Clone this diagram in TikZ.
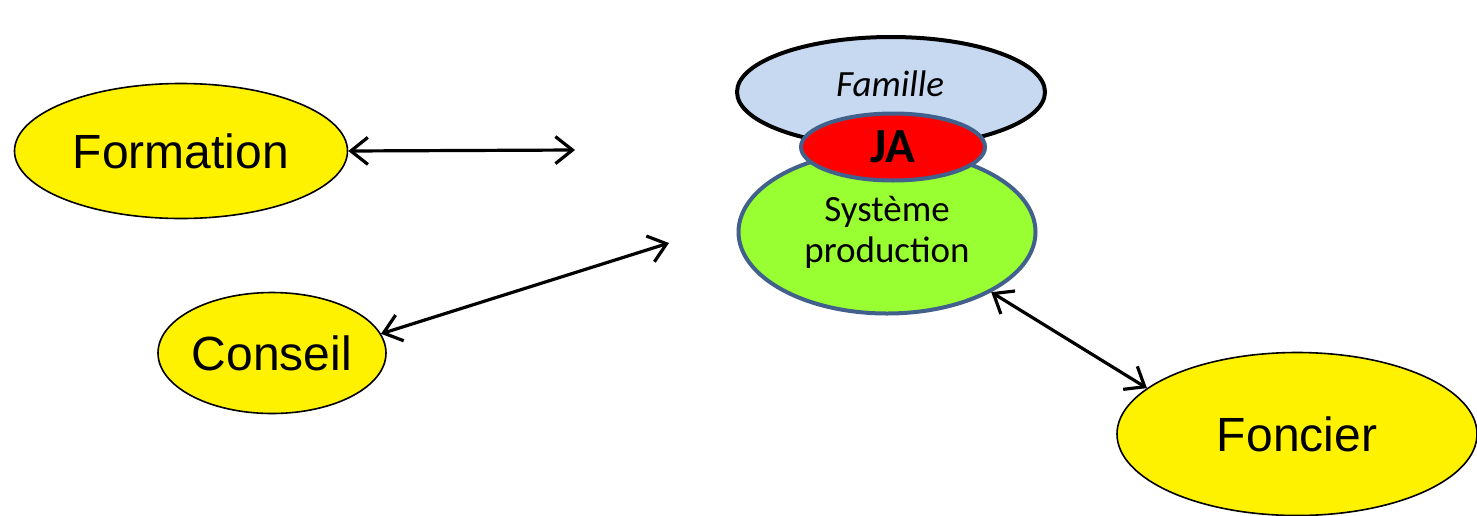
\documentclass[tikz,border=0pt]{standalone}
\usepackage{fontspec}
\setmainfont{Liberation Sans}
\newfontfamily\calibri{Carlito}
\usetikzlibrary{shapes.geometric,arrows.meta}
\definecolor{famfill}{HTML}{C6D9F1}
\definecolor{sysgreen}{HTML}{99FF33}
\definecolor{edgeblue}{HTML}{41618C}
\tikzset{
  yellowell/.style={ellipse, draw=black, line width=1.6pt, fill=yellow, inner sep=0pt,
    font=\fontsize{48}{54}\selectfont},
  famell/.style={ellipse, draw=black, line width=4pt, fill=famfill, inner sep=0pt},
  sysell/.style={ellipse, draw=edgeblue, line width=4pt, fill=sysgreen, inner sep=0pt},
  jaell/.style={ellipse, draw=edgeblue, line width=4pt, fill=red, inner sep=0pt},
  link/.style={line width=3.2pt, {Straight Barb[length=17pt,width=27pt,line width=3.2pt]}-{Straight Barb[length=17pt,width=27pt,line width=3.2pt]}},
}
\begin{document}
\begin{tikzpicture}[x=1pt,y=-1pt]
\useasboundingbox (0,0) rectangle (1477,515);
% central cluster
\node[famell, minimum width=308pt, minimum height=110pt] (famille) at (891,92) {};
\node[font=\calibri\itshape\fontsize{37}{42}\selectfont] (famtxt) at (890,84) {Famille};
\node[sysell, minimum width=297pt, minimum height=163pt, align=center,
  font=\calibri\fontsize{37}{41}\selectfont] (syst) at (887,232) {Système\\production};
\node[jaell, minimum width=184pt, minimum height=67pt,
  font=\calibri\bfseries\fontsize{49}{54}\selectfont] (ja) at (893,147) {JA};
% satellites
\node[yellowell, minimum width=333pt, minimum height=135pt] (formation) at (181,151) {Formation};
\node[yellowell, minimum width=228pt, minimum height=121pt] (conseil) at (272,353) {Conseil};
\node[yellowell, minimum width=360pt, minimum height=163pt] (foncier) at (1297,434) {Foncier};
% free ends
\coordinate (fA) at (575,150);
\coordinate (cA) at (669,243);
% connectors
\draw[link] (formation.east) -- (fA);
\draw[link] (conseil.10) -- (cA);
\draw[link] (syst.-30) -- (foncier.163);
\end{tikzpicture}
\end{document}
